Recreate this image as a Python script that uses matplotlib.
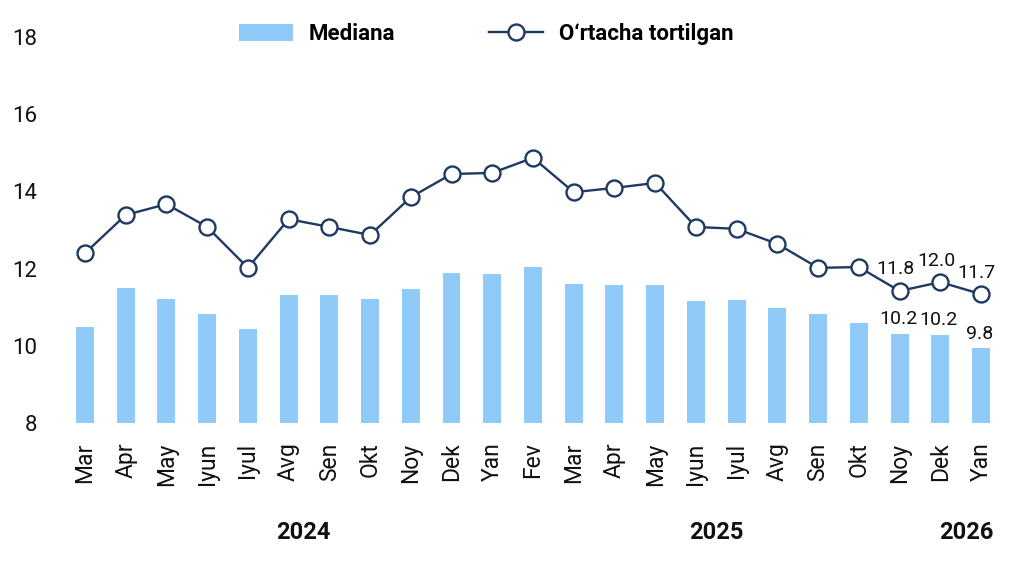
import matplotlib
matplotlib.use("Agg")
import matplotlib.pyplot as plt
from matplotlib.patches import Patch
from matplotlib.lines import Line2D

months = ["Mar", "Apr", "May", "Iyun", "Iyul", "Avg", "Sen", "Okt", "Noy", "Dek", "Yan",
          "Fev", "Mar", "Apr", "May", "Iyun", "Iyul", "Avg", "Sen", "Okt", "Noy", "Dek", "Yan"]
median = [10.49, 11.50, 11.21, 10.82, 10.44, 11.32, 11.32, 11.21, 11.47, 11.89, 11.86,
          12.04, 11.60, 11.57, 11.57, 11.16, 11.19, 10.98, 10.82, 10.59, 10.31, 10.28, 9.94]
weighted = [12.40, 13.39, 13.67, 13.08, 12.02, 13.28, 13.08, 12.87, 13.85, 14.45, 14.48,
            14.87, 13.98, 14.09, 14.22, 13.08, 13.03, 12.64, 12.02, 12.04, 11.42, 11.65, 11.34]
years = ["2024", "2025", "2026"]
year_pos = [5.35, 15.5, 21.63]
line_label_idx = [20, 21, 22]
line_label_txt = ["11.8", "12.0", "11.7"]
bar_label_idx = [20, 21, 22]
bar_label_txt = ["10.2", "10.2", "9.8"]
yticks = [8, 10, 12, 14, 16, 18]

plt.rcParams['font.family'] = ['Roboto', 'DejaVu Sans']

BAR = "#90CAF9"
LINE = "#1F3A60"
TXT = "#111111"

fig = plt.figure(figsize=(10.24, 5.61), dpi=100)
ax = fig.add_axes([0.0631, 0.246, 0.9148, 0.688])

x = list(range(len(months)))
ax.bar(x, [m - 8 for m in median], bottom=8, width=0.44, color=BAR, zorder=1)
ax.plot(x, weighted, color=LINE, lw=1.7, marker='o', markersize=11.5,
        markerfacecolor='white', markeredgecolor=LINE, markeredgewidth=1.7, zorder=3)

for i, t in zip(line_label_idx, line_label_txt):
    ax.annotate(t, (i, weighted[i]), xytext=(-3, 9), textcoords='offset points',
                ha='center', va='bottom', fontsize=14, color=TXT, zorder=4)
for i, t in zip(bar_label_idx, bar_label_txt):
    ax.annotate(t, (i, median[i]), xytext=(-1, 4), textcoords='offset points',
                ha='center', va='bottom', fontsize=14, color=TXT, zorder=4)

ax.set_xlim(-0.5, len(months) - 0.5)
ax.set_ylim(8, 18)
ax.set_yticks(yticks)
ax.set_yticklabels([str(v) for v in yticks], fontsize=16, color=TXT)
ax.set_xticks(x)
ax.set_xticklabels(months, rotation=90, fontsize=16.5, color=TXT)
ax.tick_params(axis='y', length=0, pad=20)
ax.tick_params(axis='x', length=0, pad=14)
for s in ax.spines.values():
    s.set_visible(False)

for yr, p in zip(years, year_pos):
    ax.text(p, -0.285, yr, transform=ax.get_xaxis_transform(), ha='center', va='center',
            fontsize=17, fontweight='bold', color=TXT)

handles = [Patch(facecolor=BAR, edgecolor='none'),
           Line2D([0], [0], color=LINE, lw=1.7, marker='o', markersize=11.5,
                  markerfacecolor='white', markeredgecolor=LINE, markeredgewidth=1.7)]
fig.legend(handles, ["Mediana", "O\u2018rtacha tortilgan"], loc='center',
           bbox_to_anchor=(0.4746, 0.939), ncol=2, frameon=False,
           prop={'size': 16, 'weight': 'bold'}, handlelength=2.45, handleheight=0.75,
           handletextpad=0.7, columnspacing=4.2)

fig.savefig("out.png", dpi=100, facecolor='white')
